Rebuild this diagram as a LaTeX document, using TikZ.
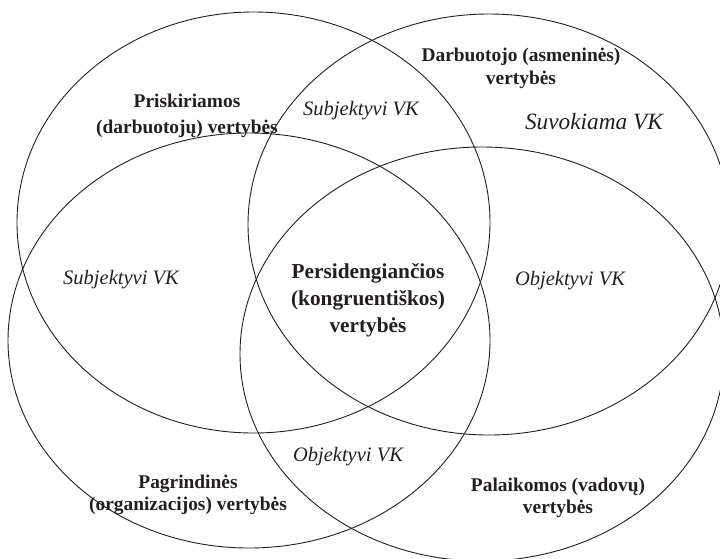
\documentclass[tikz,border=0pt]{standalone}
\usepackage{fontspec}
\setmainfont{Liberation Serif}
\definecolor{ink}{HTML}{231F20}
\begin{document}
\begin{tikzpicture}[x=1pt,y=-1pt,
  ring/.style={draw=ink, line width=0.9pt},
  setlabel/.style={font=\bfseries\fontsize{19.4}{#1}\selectfont, align=center,
                   inner sep=0pt, anchor=north, text=ink},
  setlabel/.default=25,
  vklabel/.style={font=\itshape\fontsize{20.5}{24}\selectfont, inner sep=0pt,
                  anchor=base, text=ink},
]
\useasboundingbox (0,0) rectangle (720,558);

% the four value sets
\draw[ring] (253.5,222.5) ellipse [x radius=236.5, y radius=210.5]; % assigned
\draw[ring] (489,224.5)   ellipse [x radius=241,   y radius=210.5]; % personal
\draw[ring] (249,340.5)   ellipse [x radius=241,   y radius=207.5]; % core
\draw[ring] (482,354)     ellipse [x radius=242,   y radius=207];   % supported

% set names
\node[setlabel=26] (assigned) at (187,93.5) {Priskiriamos\\(darbuotojų) vertybės};
\node[setlabel=23] (personal) at (521,47.5) {Darbuotojo (asmeninės)\\vertybės};
\node[setlabel=22] (core)     at (188,474.5) {Pagrindinės\\(organizacijos) vertybės};
\node[setlabel=22] (support)  at (558,477.5) {Palaikomos (vadovų)\\vertybės};
\node[font=\bfseries\fontsize{21.3}{27}\selectfont, align=center, inner sep=0pt,
      anchor=north, text=ink] (overlap) at (368,263.5)
      {Persidengiančios\\(kongruentiškos)\\vertybės};

% fit labels
\node[vklabel] (subjtop)  at (361,115) {Subjektyvi VK};
\node[vklabel] (subjleft) at (121,284) {Subjektyvi VK};
\node[vklabel] (objright) at (570,285) {Objektyvi VK};
\node[vklabel] (objbot)   at (348,461) {Objektyvi VK};
\node[vklabel, font=\itshape\fontsize{23.3}{28}\selectfont] (perceived) at (594,129) {Suvokiama VK};
\end{tikzpicture}
\end{document}
